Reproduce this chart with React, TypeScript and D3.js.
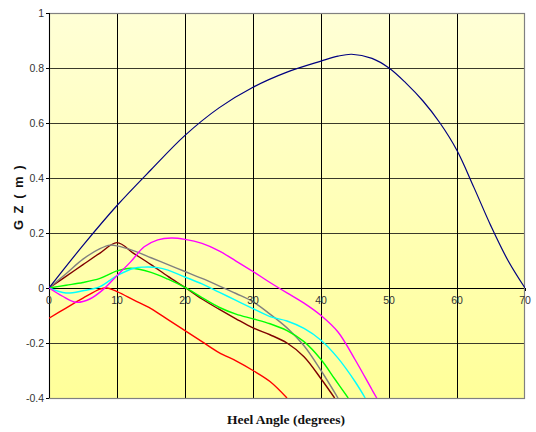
import React, { useEffect, useRef } from "react";
import * as d3 from "d3";

// GZ curves (heel angle in degrees, GZ in metres)
const blueAngles = [0, 5, 10, 15, 20, 25, 30, 35, 40, 42.5, 44.5, 47.5, 50, 52.5, 55, 57.5, 60, 62.5, 65, 67.5, 70];
const blueGZ = [0, 0.155, 0.3, 0.43, 0.555, 0.655, 0.73, 0.785, 0.825, 0.843, 0.85, 0.835, 0.8, 0.745, 0.68, 0.6, 0.5, 0.365, 0.225, 0.1, 0];

const redAngles = [0, 2.5, 5, 7.5, 8.5, 10, 12.5, 15, 17.5, 20, 22.5, 25, 27.5, 30, 32.5, 35];
const redGZ = [-0.11, -0.073, -0.037, -0.004, 0, -0.013, -0.044, -0.075, -0.115, -0.155, -0.195, -0.235, -0.265, -0.3, -0.34, -0.4];

const maroonAngles = [0, 2.5, 5, 7.5, 10, 12.5, 15, 17.5, 20, 22.5, 25, 27.5, 30, 32.5, 35, 37.5, 40, 42];
const maroonGZ = [0, 0.042, 0.085, 0.127, 0.165, 0.125, 0.085, 0.042, 0.002, -0.04, -0.077, -0.112, -0.145, -0.17, -0.2, -0.25, -0.33, -0.4];

const grayAngles = [0, 2.5, 5, 7.5, 9, 10, 12.5, 15, 17.5, 20, 22.5, 25, 27.5, 30, 32.5, 35, 37.5, 40, 42.5];
const grayGZ = [0, 0.052, 0.105, 0.143, 0.156, 0.153, 0.135, 0.11, 0.085, 0.06, 0.035, 0.008, -0.02, -0.05, -0.095, -0.145, -0.21, -0.3, -0.4];

const greenAngles = [0, 2.5, 5, 7.5, 10, 12, 15, 17.5, 20, 22.5, 25, 27.5, 30, 32.5, 35, 37.5, 40, 42, 44];
const greenGZ = [0, 0.01, 0.02, 0.035, 0.062, 0.072, 0.057, 0.032, 0.002, -0.035, -0.07, -0.095, -0.112, -0.13, -0.155, -0.195, -0.26, -0.33, -0.4];

const cyanAngles = [0, 2.5, 5, 7.5, 10, 12.5, 14, 16, 17.5, 20, 22.5, 25, 27.5, 30, 32.5, 35, 37.5, 40, 42.5, 45, 46.5];
const cyanGZ = [0, -0.018, -0.01, 0.005, 0.045, 0.072, 0.076, 0.074, 0.065, 0.04, 0.015, -0.015, -0.045, -0.075, -0.104, -0.12, -0.147, -0.19, -0.255, -0.34, -0.4];

const magentaAngles = [0, 2, 4, 6, 8, 10, 12, 14, 16, 18, 20, 22.5, 25, 27.5, 30, 32.5, 35, 37.5, 40, 42.5, 45, 47.5, 48.2];
const magentaGZ = [0, -0.03, -0.052, -0.04, -0.005, 0.045, 0.095, 0.15, 0.175, 0.182, 0.177, 0.162, 0.135, 0.098, 0.06, 0.02, -0.018, -0.055, -0.1, -0.16, -0.26, -0.37, -0.4];

const xTicks = [0, 10, 20, 30, 40, 50, 60, 70];
const yTicks = [-0.4, -0.2, 0, 0.2, 0.4, 0.6, 0.8, 1];

const series = [
  { name: "red", color: "#ff0000", x: redAngles, y: redGZ },
  { name: "maroon", color: "#800000", x: maroonAngles, y: maroonGZ },
  { name: "gray", color: "#808080", x: grayAngles, y: grayGZ },
  { name: "green", color: "#00ff00", x: greenAngles, y: greenGZ },
  { name: "cyan", color: "#00ffff", x: cyanAngles, y: cyanGZ },
  { name: "magenta", color: "#ff00ff", x: magentaAngles, y: magentaGZ },
  { name: "blue", color: "#000080", x: blueAngles, y: blueGZ },
];

export default function App() {
  const ref = useRef<SVGSVGElement>(null);

  useEffect(() => {
    const width = 536, height = 432;
    const margin = { top: 13, right: 11, bottom: 34, left: 49 };

    const svg = d3.select(ref.current);
    svg.selectAll("*").remove();

    const x = d3.scaleLinear().domain([0, 70]).range([margin.left, width - margin.right]);
    const y = d3.scaleLinear().domain([-0.4, 1]).range([height - margin.bottom, margin.top]);

    const defs = svg.append("defs");
    const grad = defs.append("linearGradient")
      .attr("id", "bg").attr("x1", 0).attr("y1", 0).attr("x2", 0).attr("y2", 1);
    grad.append("stop").attr("offset", "0%").attr("stop-color", "#ffffd6");
    grad.append("stop").attr("offset", "100%").attr("stop-color", "#ffff99");
    defs.append("clipPath").attr("id", "plotclip")
      .append("rect")
      .attr("x", x(0)).attr("y", y(1))
      .attr("width", x(70) - x(0)).attr("height", y(-0.4) - y(1));

    svg.append("rect")
      .attr("x", x(0)).attr("y", y(1))
      .attr("width", x(70) - x(0)).attr("height", y(-0.4) - y(1))
      .attr("fill", "url(#bg)");

    // grid
    svg.append("g")
      .selectAll("line")
      .data(yTicks)
      .join("line")
      .attr("x1", x(0)).attr("x2", x(70))
      .attr("y1", d => Math.round(y(d)) + 0.5).attr("y2", d => Math.round(y(d)) + 0.5)
      .attr("stroke", d => d === 0 ? "#000" : "#3a3a2a")
      .attr("stroke-width", 1);
    svg.append("g")
      .selectAll("line")
      .data(xTicks.slice(1, -1))
      .join("line")
      .attr("x1", d => Math.round(x(d)) + 0.5).attr("x2", d => Math.round(x(d)) + 0.5)
      .attr("y1", y(1)).attr("y2", y(-0.4))
      .attr("stroke", "#000")
      .attr("stroke-width", 1);

    // plot border
    svg.append("rect")
      .attr("x", x(0) + 0.5).attr("y", y(1) + 0.5)
      .attr("width", x(70) - x(0) - 1).attr("height", y(-0.4) - y(1))
      .attr("fill", "none")
      .attr("stroke", "#808080")
      .attr("stroke-width", 1.2);

    // left axis line + ticks
    svg.append("line")
      .attr("x1", x(0) + 0.5).attr("x2", x(0) + 0.5)
      .attr("y1", y(1)).attr("y2", y(-0.4))
      .attr("stroke", "#000");
    svg.append("g")
      .selectAll("line")
      .data(yTicks)
      .join("line")
      .attr("x1", x(0) - 3).attr("x2", x(0))
      .attr("y1", d => Math.round(y(d)) + 0.5).attr("y2", d => Math.round(y(d)) + 0.5)
      .attr("stroke", "#000");

    // plain hyphen for negatives, like the original
    const fmt = (d: number) => String(+d.toFixed(1));

    svg.append("g")
      .selectAll("text")
      .data(yTicks)
      .join("text")
      .attr("x", x(0) - 5)
      .attr("y", d => y(d))
      .attr("dy", "0.35em")
      .attr("text-anchor", "end")
      .attr("font-family", "Liberation Sans Narrow, Liberation Sans, Arial, sans-serif")
      .attr("font-size", 10.5)
      .attr("fill", "#333")
      .text(d => fmt(d));

    // x tick marks on the zero line
    svg.append("g")
      .selectAll("line")
      .data(xTicks)
      .join("line")
      .attr("x1", d => Math.round(x(d)) + 0.5).attr("x2", d => Math.round(x(d)) + 0.5)
      .attr("y1", y(0)).attr("y2", y(0) + 3)
      .attr("stroke", "#000");

    // curves
    const line = d3.line<[number, number]>()
      .x(d => x(d[0]))
      .y(d => y(d[1]))
      .curve(d3.curveCatmullRom.alpha(0.5));

    const curves = svg.append("g").attr("clip-path", "url(#plotclip)");
    series.forEach(s => {
      const pts: [number, number][] = s.x.map((a, i) => [a, s.y[i]]);
      curves.append("path")
        .datum(pts)
        .attr("fill", "none")
        .attr("stroke", s.color)
        .attr("stroke-width", s.name === "blue" ? 1.2 : 1.4)
        .attr("d", line);
    });

    // x tick labels sit just under the zero line
    svg.append("g")
      .selectAll("text")
      .data(xTicks)
      .join("text")
      .attr("x", d => x(d))
      .attr("y", y(0) + 16)
      .attr("text-anchor", "middle")
      .attr("font-family", "Liberation Sans Narrow, Liberation Sans, Arial, sans-serif")
      .attr("font-size", 10.5)
      .attr("fill", "#333")
      .text(d => d);

    svg.append("text")
      .attr("x", 286)
      .attr("y", 424)
      .attr("text-anchor", "middle")
      .attr("font-family", "Liberation Serif, Times New Roman, serif")
      .attr("font-weight", "bold")
      .attr("font-size", 13.5)
      .attr("fill", "#111")
      .text("Heel Angle (degrees)");

    svg.append("text")
      .attr("transform", "translate(23,197) rotate(-90)")
      .attr("text-anchor", "middle")
      .attr("font-family", "Liberation Sans, Arial, sans-serif")
      .attr("font-weight", "bold")
      .attr("font-size", 13)
      .attr("letter-spacing", 1.5)
      .attr("fill", "#111")
      .attr("xml:space", "preserve")
      .text("G Z ( m )");
  }, []);

  return (
    <svg
      ref={ref}
      width={536}
      height={432}
      style={{ position: "absolute", left: 0, top: 0, background: "#fff" }}
    />
  );
}
